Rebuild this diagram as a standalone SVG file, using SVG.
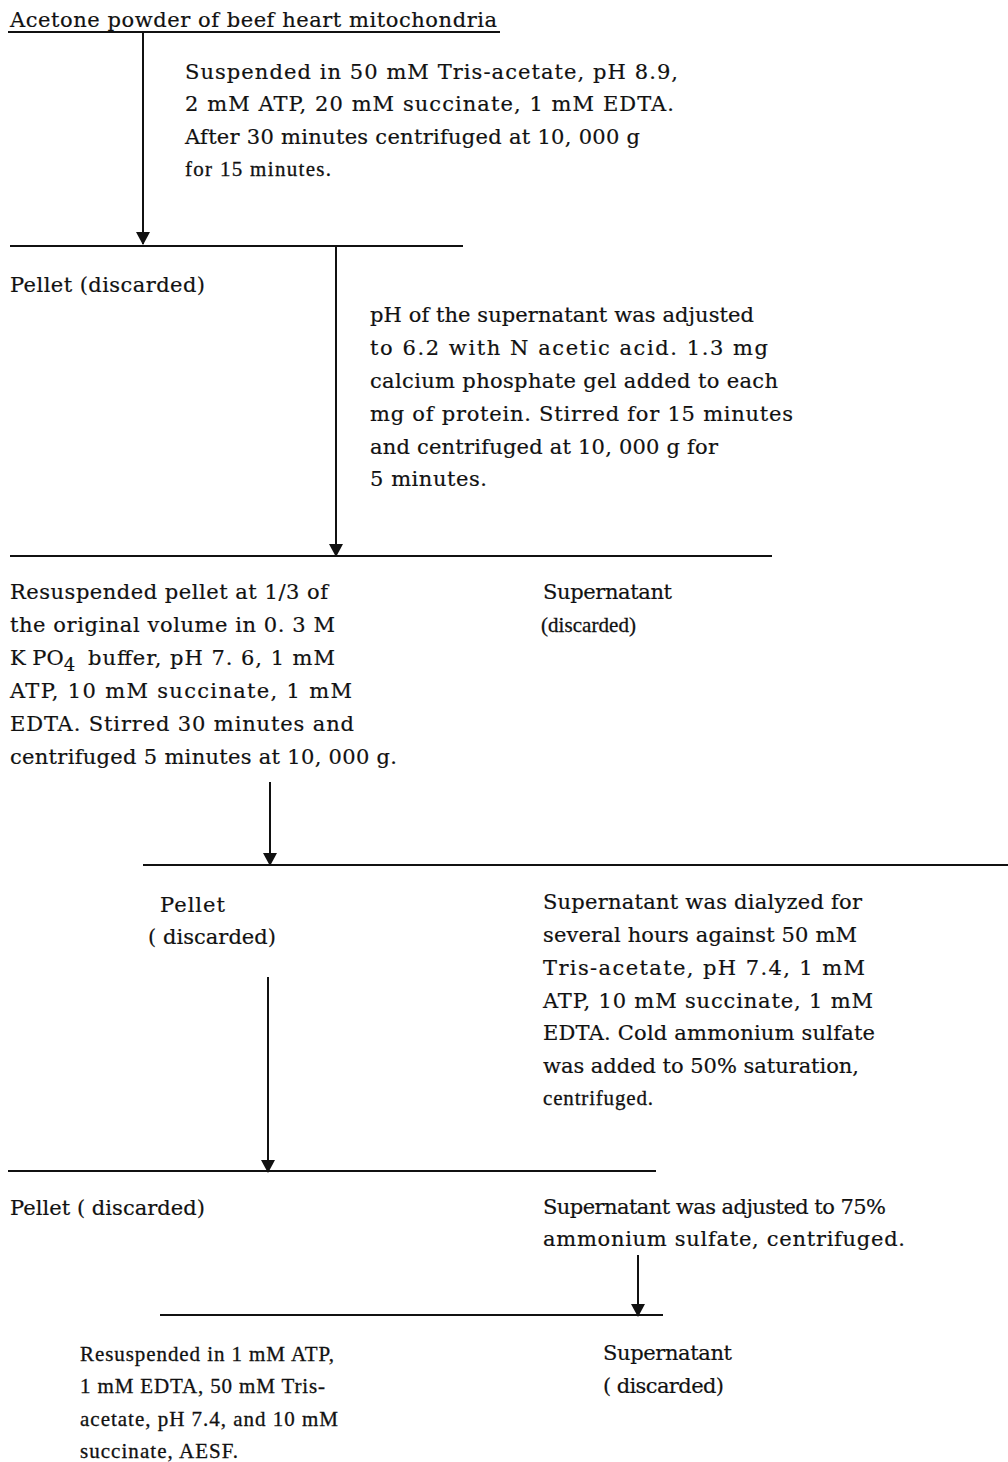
<svg xmlns="http://www.w3.org/2000/svg" width="1008" height="1462" viewBox="0 0 1008 1462">
<style>
text{font-family:"DejaVu Serif","Liberation Serif",serif;font-size:21px;fill:#111;stroke:#111;stroke-width:0.2}
text.n{font-family:"Liberation Serif","DejaVu Serif",serif;font-size:21px;stroke-width:0.3}
.ln{stroke:#111;stroke-width:2;fill:none}
</style>
<defs>
<marker id="ah" markerUnits="userSpaceOnUse" markerWidth="14" markerHeight="16" refX="12" refY="8" orient="auto" viewBox="0 0 14 16">
<path d="M0,1 L13,8 L0,15 Z" fill="#111"/>
</marker>
</defs>
<rect width="1008" height="1462" fill="#fff"/>
<g id="connectors">
<line class="ln" x1="8" y1="32" x2="500" y2="32"/>
<line class="ln" x1="143" y1="32" x2="143" y2="244" marker-end="url(#ah)"/>
<line class="ln" x1="10" y1="246" x2="463" y2="246"/>
<line class="ln" x1="336" y1="246" x2="336" y2="556" marker-end="url(#ah)"/>
<line class="ln" x1="10" y1="556" x2="772" y2="556"/>
<line class="ln" x1="270" y1="782" x2="270" y2="865" marker-end="url(#ah)"/>
<line class="ln" x1="143" y1="865" x2="1008" y2="865"/>
<line class="ln" x1="268" y1="977" x2="268" y2="1172" marker-end="url(#ah)"/>
<line class="ln" x1="8" y1="1171" x2="656" y2="1171"/>
<line class="ln" x1="638" y1="1255" x2="638" y2="1316" marker-end="url(#ah)"/>
<line class="ln" x1="160" y1="1315" x2="663" y2="1315"/>
</g>
<g id="start">
<text x="10" y="27" textLength="487" lengthAdjust="spacing">Acetone powder of beef heart mitochondria</text>
</g>
<g id="step1">
<text x="185" y="79" textLength="493" lengthAdjust="spacing">Suspended in 50 mM Tris-acetate, pH 8.9,</text>
<text x="185" y="111" textLength="489" lengthAdjust="spacing">2 mM ATP, 20 mM succinate, 1 mM EDTA.</text>
<text x="185" y="144" textLength="455" lengthAdjust="spacing">After 30 minutes centrifuged at 10, 000 g</text>
<text class="n" x="185" y="176" textLength="146" lengthAdjust="spacing">for 15 minutes.</text>
</g>
<g id="pellet1">
<text x="10" y="292" textLength="195" lengthAdjust="spacing">Pellet (discarded)</text>
</g>
<g id="step2">
<text x="370" y="322" textLength="384" lengthAdjust="spacing">pH of the supernatant was adjusted</text>
<text x="370" y="355" textLength="398" lengthAdjust="spacing">to 6.2 with N acetic acid.   1.3 mg</text>
<text x="370" y="388" textLength="408" lengthAdjust="spacing">calcium phosphate gel added to each</text>
<text x="370" y="421" textLength="423" lengthAdjust="spacing">mg of protein.   Stirred for 15 minutes</text>
<text x="370" y="454" textLength="348" lengthAdjust="spacing">and centrifuged at 10, 000 g for</text>
<text x="370" y="486" textLength="117" lengthAdjust="spacing">5 minutes.</text>
</g>
<g id="step3">
<text x="10" y="599" textLength="318" lengthAdjust="spacing">Resuspended pellet at 1/3 of</text>
<text x="10" y="632" textLength="325" lengthAdjust="spacing">the original volume in 0. 3 M</text>
<text x="10" y="665">K PO<tspan dy="6" font-size="18">4</tspan></text>
<text x="88" y="665" textLength="247" lengthAdjust="spacing">buffer,  pH 7. 6,  1 mM</text>
<text x="10" y="698" textLength="342" lengthAdjust="spacing">ATP,  10 mM succinate,  1 mM</text>
<text x="10" y="731" textLength="344" lengthAdjust="spacing">EDTA.   Stirred 30 minutes and</text>
<text x="10" y="764" textLength="387" lengthAdjust="spacing">centrifuged 5 minutes at 10, 000 g.</text>
</g>
<g id="supernatant1">
<text x="543" y="599" textLength="129" lengthAdjust="spacing">Supernatant</text>
<text class="n" x="541" y="632" textLength="95" lengthAdjust="spacing">(discarded)</text>
</g>
<g id="pellet2">
<text x="160" y="912" textLength="65" lengthAdjust="spacing">Pellet</text>
<text x="148" y="944" textLength="128" lengthAdjust="spacing">( discarded)</text>
</g>
<g id="step4">
<text x="543" y="909" textLength="319" lengthAdjust="spacing">Supernatant was  dialyzed for</text>
<text x="543" y="942" textLength="314" lengthAdjust="spacing">several hours against 50 mM</text>
<text x="543" y="975" textLength="322" lengthAdjust="spacing">Tris-acetate,  pH 7.4,  1 mM</text>
<text x="543" y="1008" textLength="330" lengthAdjust="spacing">ATP,  10 mM succinate,  1 mM</text>
<text x="543" y="1040" textLength="332" lengthAdjust="spacing">EDTA.  Cold ammonium sulfate</text>
<text x="543" y="1073" textLength="316" lengthAdjust="spacing">was added to 50% saturation,</text>
<text class="n" x="543" y="1105" textLength="110" lengthAdjust="spacing">centrifuged.</text>
</g>
<g id="pellet3">
<text x="10" y="1215" textLength="195" lengthAdjust="spacing">Pellet ( discarded)</text>
</g>
<g id="step5">
<text x="543" y="1214" textLength="343" lengthAdjust="spacing">Supernatant was adjusted to 75%</text>
<text x="543" y="1246" textLength="362" lengthAdjust="spacing">ammonium sulfate, centrifuged.</text>
</g>
<g id="final">
<text class="n" x="80" y="1361" textLength="254" lengthAdjust="spacing">Resuspended in 1 mM ATP,</text>
<text class="n" x="80" y="1393" textLength="245" lengthAdjust="spacing">1 mM EDTA,  50 mM Tris-</text>
<text class="n" x="80" y="1426" textLength="258" lengthAdjust="spacing">acetate,  pH 7.4,  and 10 mM</text>
<text class="n" x="80" y="1458" textLength="158" lengthAdjust="spacing">succinate,  AESF.</text>
</g>
<g id="supernatant2">
<text x="603" y="1360" textLength="129" lengthAdjust="spacing">Supernatant</text>
<text x="603" y="1393" textLength="121" lengthAdjust="spacing">( discarded)</text>
</g>
</svg>
